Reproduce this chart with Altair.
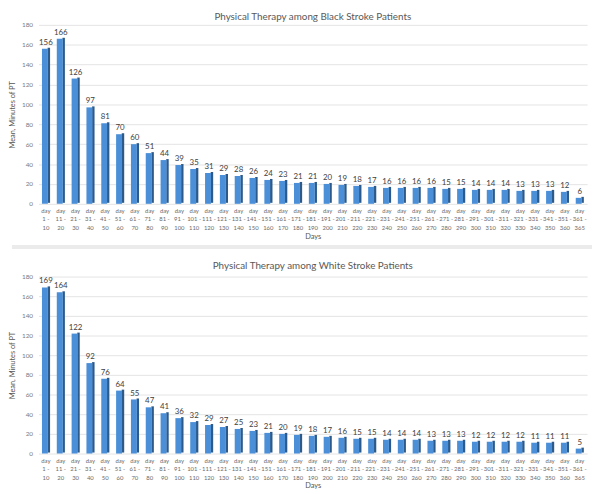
import altair as alt
import pandas as pd

starts = [1, 11, 21, 31, 41, 51, 61, 71, 81, 91, 101, 111, 121, 131, 141, 151, 161, 171,
          181, 191, 201, 211, 221, 231, 241, 251, 261, 271, 281, 291, 301, 311, 321, 331,
          341, 351, 361]
ends = [10, 20, 30, 40, 50, 60, 70, 80, 90, 100, 110, 120, 130, 140, 150, 160, 170, 180,
        190, 200, 210, 220, 230, 240, 250, 260, 270, 280, 290, 300, 310, 320, 330, 340,
        350, 360, 365]
categories = [f"day {s} - {e}" for s, e in zip(starts, ends)]

black_values = [156, 166, 126, 97, 81, 70, 60, 51, 44, 39, 35, 31, 29, 28, 26, 24, 23, 21,
                21, 20, 19, 18, 17, 16, 16, 16, 16, 15, 15, 14, 14, 14, 13, 13, 13, 12, 6]
white_values = [169, 164, 122, 92, 76, 64, 55, 47, 41, 36, 32, 29, 27, 25, 23, 21, 20, 19,
                18, 17, 16, 15, 15, 14, 14, 14, 13, 13, 13, 12, 12, 12, 12, 11, 11, 11, 5]

titles = ["Physical Therapy among Black Stroke Patients",
          "Physical Therapy among White Stroke Patients"]

W = 558
FONT = "Lato"


def panel(values, title, h, offset):
    df = pd.DataFrame({"cat": categories, "val": values})
    x = alt.X("cat:N", sort=categories, title="Days",
              scale=alt.Scale(paddingInner=0.5, paddingOuter=0.25),
              axis=alt.Axis(labelAngle=0, domain=False, ticks=False,
                            labelExpr="[split(datum.label,' ')[0], split(datum.label,' ')[1] + ' -', split(datum.label,' ')[3]]",
                            labelFontSize=6, labelLineHeight=8.5, labelColor="#6a6a6a",
                            labelPadding=4, titleFontSize=7.5, titleColor="#555555",
                            titleFontWeight="normal", titlePadding=2, labelFont=FONT,
                            titleFont=FONT))
    y = alt.Y("val:Q", title="Mean, Minutes of PT",
              scale=alt.Scale(domain=[0, 180], nice=False),
              axis=alt.Axis(values=list(range(0, 181, 20)), domain=False, ticks=False,
                            gridColor="#e3e3e3", labelFontSize=6.5, labelColor="#7a7a7a",
                            labelPadding=6, titleFontSize=7.5, titleColor="#555555",
                            titleFontWeight="normal", titlePadding=5, labelFont=FONT,
                            titleFont=FONT))
    base = alt.Chart(df).encode(x=x, y=y)
    side = base.mark_bar(size=2.5, xOffset=3, color="#2c5a8a", yOffset=-1)
    front = base.mark_bar(size=6, xOffset=-1, color="#4a8fd8")
    txt = base.mark_text(dy=-6, fontSize=8, color="#404040", font=FONT).encode(text="val:Q")
    return alt.layer(side, front, txt).properties(
        width=W, height=h,
        title=alt.TitleParams(title, fontSize=10, font=FONT, fontWeight="normal",
                              color="#595959", anchor="middle", offset=offset))


top = panel(black_values, titles[0], 182, 0)
bottom = panel(white_values, titles[1], 180, 3)

sep = alt.Chart(pd.DataFrame({"a": [0]})).mark_rect(color="#ebebeb").encode(
    x=alt.value(-27), x2=alt.value(W + 5), y=alt.value(0), y2=alt.value(4)
).properties(width=W, height=4)

upper = alt.vconcat(top, sep, spacing=5)
chart = alt.vconcat(upper, bottom, spacing=12).properties(padding=0).configure_view(
    stroke=None
)

chart.save("out.html", embed_options={"renderer": "svg", "actions": False})
